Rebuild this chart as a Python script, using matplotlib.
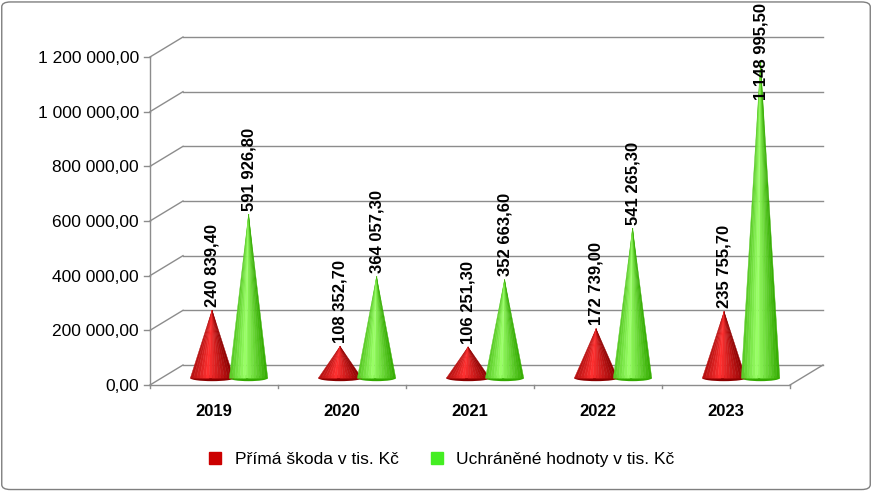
import matplotlib
matplotlib.use("Agg")
import matplotlib.pyplot as plt
import numpy as np
from matplotlib.patches import Polygon, Ellipse, FancyBboxPatch
from matplotlib.transforms import offset_copy
from matplotlib.ticker import FuncFormatter
from matplotlib.lines import Line2D

plt.rcParams["font.family"] = "Liberation Sans"

years = ["2019", "2020", "2021", "2022", "2023"]
prima = [240839.40, 108352.70, 106251.30, 172739.00, 235755.70]
uchranene = [591926.80, 364057.30, 352663.60, 541265.30, 1148995.50]
series_names = ["Přímá škoda v tis. Kč", "Uchráněné hodnoty v tis. Kč"]
yticks = [0, 200000, 400000, 600000, 800000, 1000000, 1200000]

def fmt(v):
    return f"{v:,.2f}".replace(",", " ").replace(".", ",")

W, H = 872, 491
fig = plt.figure(figsize=(W/100, H/100), dpi=100)
fig.patches.append(FancyBboxPatch((0.002, 0.003), 0.996, 0.993, boxstyle="round,pad=0,rounding_size=0.01",
                                  transform=fig.transFigure, fill=False, ec="#7f7f7f", lw=1))
ax = fig.add_axes([150/W, (H-385)/H, 640/W, 328/H])
ax.set_xlim(-0.5, 4.5)
ax.set_ylim(0, 1200000)
for s in ax.spines.values():
    s.set_visible(False)
ax.patch.set_alpha(0)

gc = "#8c8c8c"
off = offset_copy(ax.transData, fig=fig, x=33, y=20, units="dots")
for t in yticks:
    ax.plot([-0.5, 4.5], [t, t], transform=off, color=gc, lw=1, clip_on=False)
    x0, y0 = ax.transData.transform((-0.5, t))
    ax.plot([x0, x0+33], [y0, y0+20], transform=None, color=gc, lw=1, clip_on=False)
ax.plot([-0.5, 4.5], [0, 0], color=gc, lw=1, clip_on=False)
x1, y1 = ax.transData.transform((4.5, 0))
ax.plot([x1, x1+33], [y1, y1+20], transform=None, color=gc, lw=1, clip_on=False)
ax.plot([-0.5, -0.5], [0, 1200000], color=gc, lw=1, clip_on=False)
for t in yticks:
    ax.plot([-0.5-0.05, -0.5], [t, t], color=gc, lw=1, clip_on=False)
for i in range(6):
    ax.plot([i-0.5, i-0.5], [0, -12000], color=gc, lw=1, clip_on=False)

ax.set_yticks(yticks)
ax.yaxis.set_major_formatter(FuncFormatter(lambda v, p: fmt(v)))
ax.tick_params(axis="y", length=0, labelsize=12.5, pad=8)
ax.set_xticks(range(5))
ax.set_xticklabels(years, fontsize=12, fontweight="bold")
ax.tick_params(axis="x", length=0, pad=14)

base = 25000
def cone(xc, hw, val, dark, light):
    top = val + base + 8000
    n = 14
    d = np.array(matplotlib.colors.to_rgb(dark)); l = np.array(matplotlib.colors.to_rgb(light))
    for k in range(n):
        f0, f1 = k/n, (k+1)/n
        g = 1 - abs((f0+f1)/2 - 0.4)/0.6
        col = d*(1-g) + l*g
        xa, xb = xc-hw+2*hw*f0, xc-hw+2*hw*f1
        ax.add_patch(Polygon([(xa, base), (xb, base), (xc, top)], closed=True, fc=col, ec=col, lw=0.3, zorder=3))
    ax.add_patch(Ellipse((xc, base), 2*hw, 22000, fc=dark, ec="none", zorder=2.9))
    return top

# data value at the top edge of the figure (minus margin)
ymax_lab = ax.transData.inverted().transform((0, H-3))[1]

def label(x, t, v):
    txt = ax.text(x, t+12000, fmt(v), rotation=90, ha="center", va="bottom",
                  fontsize=12, fontweight="bold", zorder=5, clip_on=False)
    fig.canvas.draw()
    bb = txt.get_window_extent()
    if bb.y1 > H-3:
        txt.set_position((x, ymax_lab)); txt.set_va("top")

reds = ("#8b0000", "#ff3030")
greens = ("#33aa00", "#99ff66")
for i in range(5):
    t = cone(i-0.015, 0.17, prima[i], *reds)
    label(i-0.015, t, prima[i])
    t = cone(i+0.27, 0.15, uchranene[i], *greens)
    label(i+0.27, t, uchranene[i])

handles = [Line2D([], [], marker="s", ls="", color="#cc0000", markersize=9),
           Line2D([], [], marker="s", ls="", color="#44ee22", markersize=9)]
fig.legend(handles, series_names, loc="center", bbox_to_anchor=(0.5, (H-459)/H), ncol=2,
           frameon=False, fontsize=12.5, handletextpad=0.1, columnspacing=1.2)
fig.savefig("out.png", dpi=100)
